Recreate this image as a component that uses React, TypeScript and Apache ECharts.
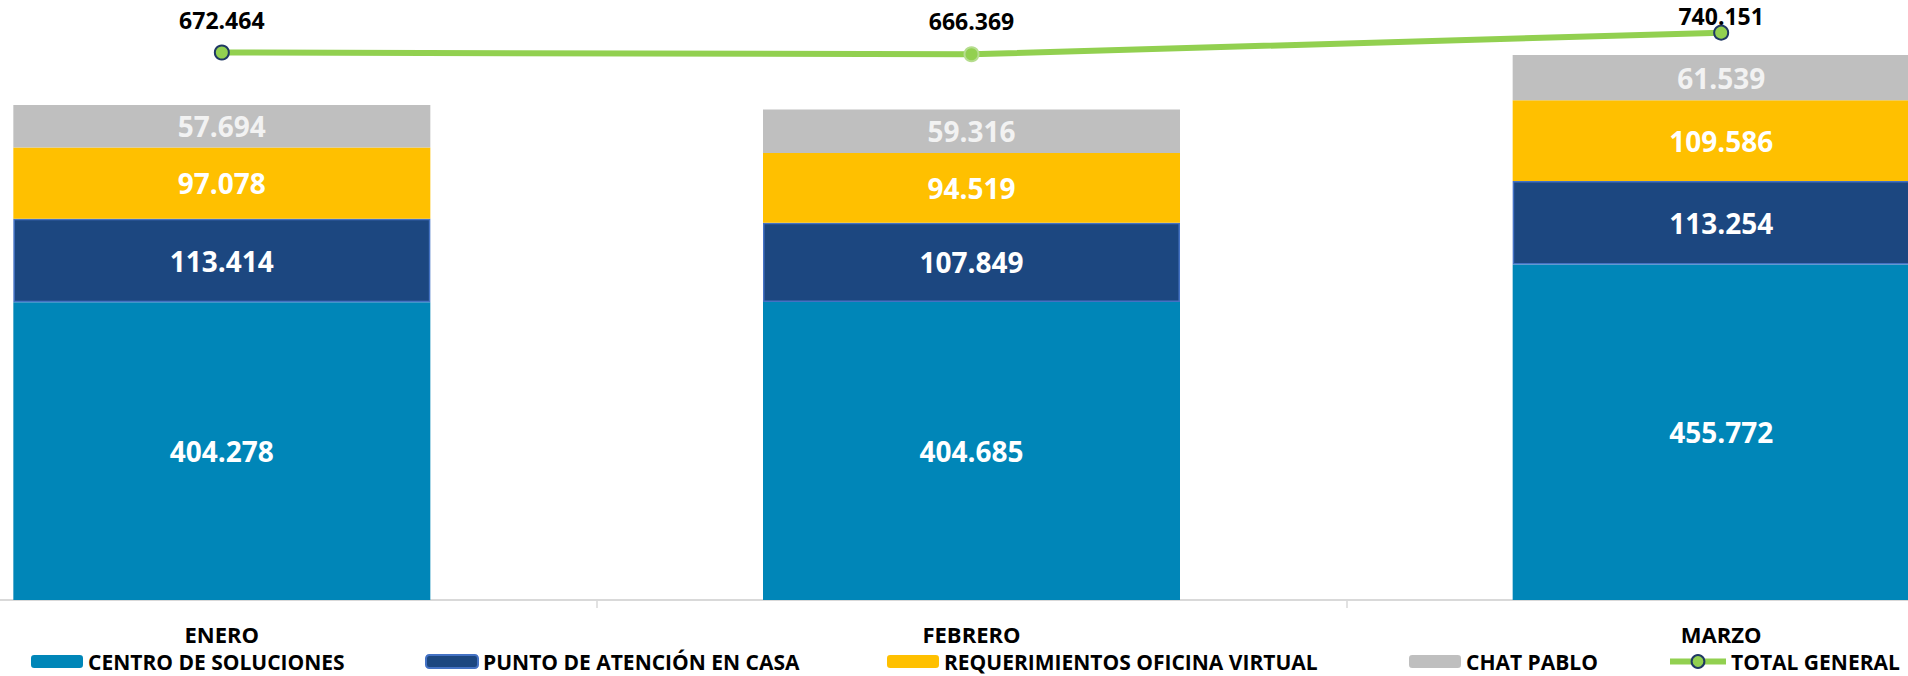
import React, { useEffect, useRef } from "react";
import * as echarts from "echarts";

const months = ["ENERO", "FEBRERO", "MARZO"];
const centroSoluciones = [404.278, 404.685, 455.772];
const puntoAtencion = [113.414, 107.849, 113.254];
const requerimientos = [97.078, 94.519, 109.586];
const chatPablo = [57.694, 59.316, 61.539];
const totalGeneral = [672.464, 666.369, 740.151];

const seriesNames = [
  "CENTRO DE SOLUCIONES",
  "PUNTO DE ATENCIÓN EN CASA",
  "REQUERIMIENTOS OFICINA VIRTUAL",
  "CHAT PABLO",
  "TOTAL GENERAL",
];

const fmt = (v: number) => v.toFixed(3);
const FONT = "'Open Sans', 'Noto Sans', sans-serif";
const SHIFT = 153;

export default function App() {
  const ref = useRef<HTMLDivElement>(null);
  useEffect(() => {
    if (!ref.current) return;
    const chart = echarts.init(ref.current, undefined, { renderer: "svg" });
    const barLabel = (color: string) => ({
      show: true,
      position: "inside" as const,
      color,
      fontFamily: FONT,
      fontWeight: "bold" as const,
      fontSize: 28,
      formatter: (p: any) => fmt(p.value),
    });
    const legendLefts = [31, 425, 887, 1409, 1667];
    const legends = seriesNames.map((n, i) => ({
      data: [n],
      left: legendLefts[i] + SHIFT,
      top: 651,
      padding: 0,
      itemWidth: i === 4 ? 56 : 52,
      itemHeight: i === 4 ? 16 : 13,
      selectedMode: false,
      lineStyle: { width: 6 },
      textStyle: {
        fontFamily: FONT,
        fontWeight: "bold",
        fontSize: 21,
        lineHeight: 21,
        color: "#000",
      },
    }));
    const lineLabelOffsets = [-32, -33, -17];
    const lineBorders = ["#1F3864", "#B6DD8F", "#1F3864"];
    chart.setOption({
      animation: false,
      backgroundColor: "#fff",
      legend: legends,
      grid: { left: 0, right: 0, top: 11, height: 589 },
      xAxis: {
        type: "category",
        data: months,
        axisLine: { show: true, lineStyle: { color: "#D9D9D9", width: 2 } },
        axisTick: { show: true, length: 8, lineStyle: { color: "#D9D9D9", width: 1.5 } },
        axisLabel: {
          margin: 23,
          fontFamily: FONT,
          fontWeight: "bold",
          fontSize: 22,
          lineHeight: 22,
          color: "#000",
        },
      },
      yAxis: [
        { type: "value", min: 0, max: 800, show: false, splitLine: { show: false } },
        { type: "value", min: -1194.3, max: 813.9, show: false, splitLine: { show: false } },
      ],
      series: [
        {
          name: seriesNames[0],
          type: "bar",
          stack: "total",
          barWidth: 417,
          data: centroSoluciones,
          itemStyle: { color: "#0086B8" },
          label: barLabel("#FFFFFF"),
        },
        {
          name: seriesNames[1],
          type: "bar",
          stack: "total",
          barWidth: 417,
          data: puntoAtencion,
          itemStyle: { color: "#1C4780", borderColor: "#4472C4", borderWidth: 1.5 },
          label: barLabel("#FFFFFF"),
        },
        {
          name: seriesNames[2],
          type: "bar",
          stack: "total",
          barWidth: 417,
          data: requerimientos,
          itemStyle: { color: "#FFC000" },
          label: barLabel("#FFFFFF"),
        },
        {
          name: seriesNames[3],
          type: "bar",
          stack: "total",
          barWidth: 417,
          data: chatPablo,
          itemStyle: { color: "#BFBFBF" },
          label: barLabel("#F2F2F2"),
        },
        {
          name: seriesNames[4],
          type: "line",
          yAxisIndex: 1,
          z: 10,
          symbol: "circle",
          symbolSize: 14,
          lineStyle: { color: "#92D050", width: 6 },
          itemStyle: { color: "#92D050", borderColor: "#1F3864", borderWidth: 2 },
          data: totalGeneral.map((v, i) => ({
            value: v,
            itemStyle: { color: "#92D050", borderColor: lineBorders[i], borderWidth: 2 },
            label: {
              show: true,
              position: "inside",
              offset: [0, lineLabelOffsets[i]],
              color: "#000",
              fontFamily: FONT,
              fontWeight: "bold",
              fontSize: 23,
              formatter: () => fmt(v),
            },
          })),
        },
      ],
    });
    return () => chart.dispose();
  }, []);
  return (
    <div style={{ position: "fixed", left: 0, top: 0, width: 1908, height: 676, overflow: "hidden", background: "#fff" }}>
      <div ref={ref} style={{ position: "absolute", left: -SHIFT, top: 0, width: 2249, height: 676 }} />
    </div>
  );
}
